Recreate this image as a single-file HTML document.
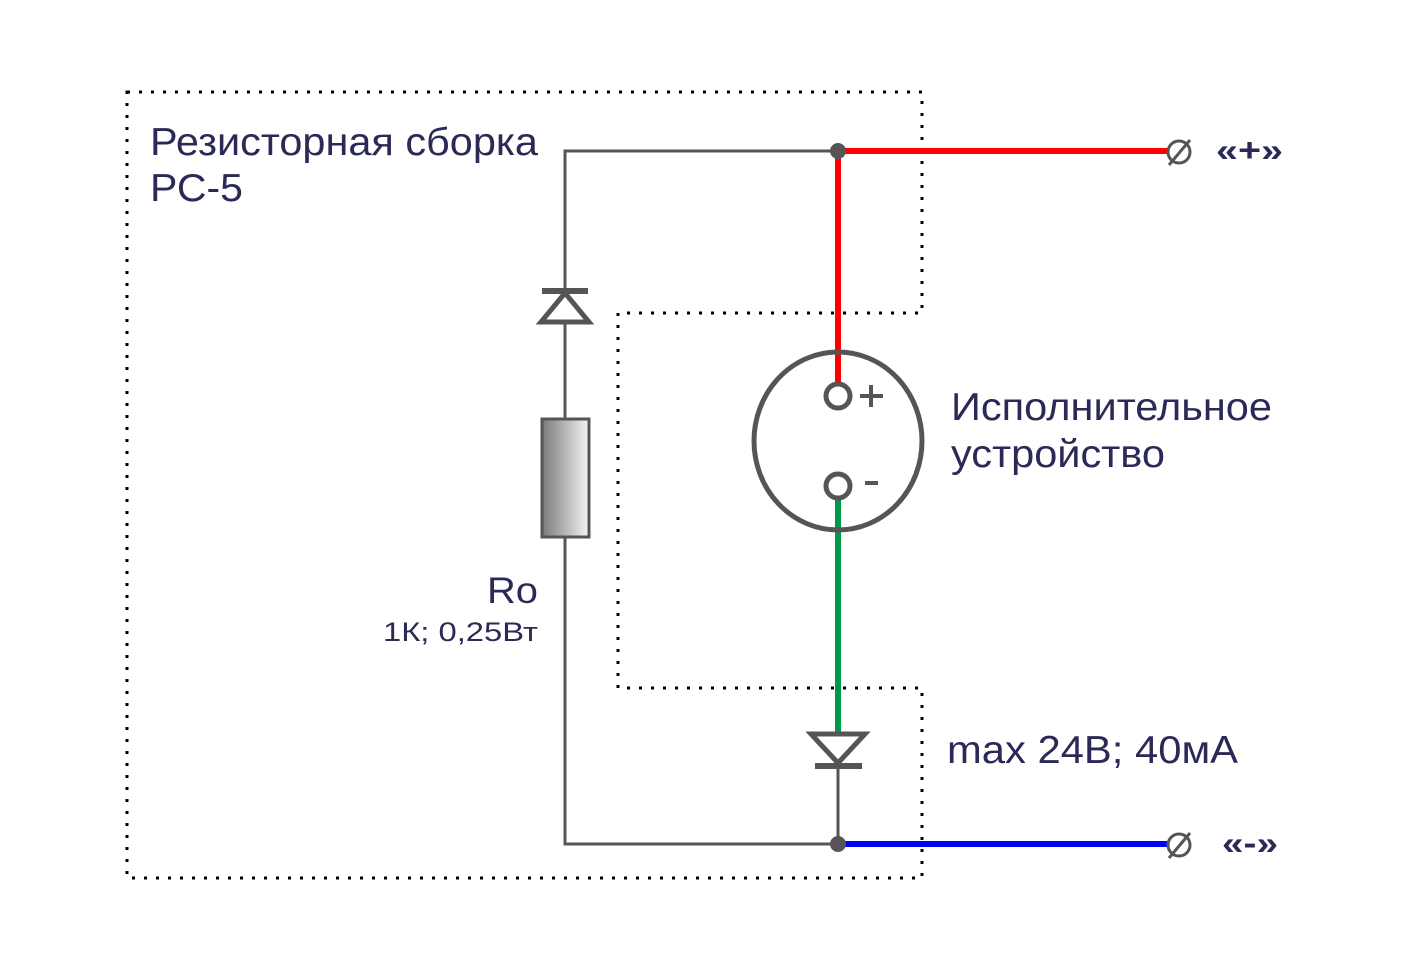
<!DOCTYPE html>
<html><head><meta charset="utf-8"><style>html,body{margin:0;padding:0;background:#fff}</style></head>
<body>
<svg width="1418" height="958" viewBox="0 0 1418 958" xmlns="http://www.w3.org/2000/svg" font-family="Liberation Sans, sans-serif">
<defs>
<linearGradient id="g" x1="0" x2="1" y1="0" y2="0"><stop offset="0" stop-color="#7a7a7a"/><stop offset="1" stop-color="#f4f4f4"/></linearGradient>
</defs>
<path d="M127,92 H922 V313 H618 V688 H922 V878 H127 Z" fill="none" stroke="#000" stroke-width="3" stroke-dasharray="3,9"/>
<g stroke="#555" stroke-width="3" fill="none">
<path d="M838,151 H565 V844 H838 V766"/>
</g>
<line x1="838" y1="151" x2="1168" y2="151" stroke="#f00" stroke-width="6"/>
<line x1="838" y1="151" x2="838" y2="384" stroke="#f00" stroke-width="6"/>
<line x1="838" y1="498" x2="838" y2="736" stroke="#00994a" stroke-width="6"/>
<line x1="838" y1="844" x2="1168" y2="844" stroke="#00f" stroke-width="6"/>
<circle cx="838" cy="151" r="8" fill="#555"/>
<circle cx="838" cy="844" r="8" fill="#555"/>
<line x1="542" y1="291" x2="588" y2="291" stroke="#555" stroke-width="6"/>
<polygon points="565,293 541,322 589,322" fill="#fff" stroke="#555" stroke-width="5"/>
<rect x="542" y="419" width="47" height="118" fill="url(#g)" stroke="#555" stroke-width="3"/>
<polygon points="811,734 865,734 838,763" fill="#fff" stroke="#555" stroke-width="5"/>
<line x1="815" y1="766" x2="862" y2="766" stroke="#555" stroke-width="6"/>
<ellipse cx="838" cy="441" rx="84" ry="89" fill="none" stroke="#555" stroke-width="5"/>
<circle cx="838" cy="396" r="12" fill="#fff" stroke="#555" stroke-width="5"/>
<circle cx="838" cy="486" r="12" fill="#fff" stroke="#555" stroke-width="5"/>
<path d="M860,396 H883 M871,385 V407" stroke="#555" stroke-width="4"/>
<path d="M865,483 H878" stroke="#555" stroke-width="4"/>
<g stroke="#555" stroke-width="3" fill="none">
<circle cx="1179" cy="152" r="11"/><line x1="1169" y1="165" x2="1190" y2="140"/>
<circle cx="1179" cy="845" r="11"/><line x1="1169" y1="858" x2="1190" y2="833"/>
</g>
<g fill="#2b2a56">
<text x="150" y="155" font-size="39" textLength="388" lengthAdjust="spacingAndGlyphs">Резисторная сборка</text>
<text x="150" y="201" font-size="39" textLength="93" lengthAdjust="spacingAndGlyphs">РС-5</text>
<text x="951" y="420" font-size="39" textLength="321" lengthAdjust="spacingAndGlyphs">Исполнительное</text>
<text x="951" y="467" font-size="39" textLength="214" lengthAdjust="spacingAndGlyphs">устройство</text>
<text x="487" y="603" font-size="37" textLength="51" lengthAdjust="spacingAndGlyphs">Ro</text>
<text x="383" y="641" font-size="27" textLength="155" lengthAdjust="spacingAndGlyphs">1К; 0,25Вт</text>
<text x="947" y="763" font-size="39" textLength="291" lengthAdjust="spacingAndGlyphs">max 24В; 40мА</text>
<text x="1216" y="161" font-size="32" font-weight="bold" textLength="67" lengthAdjust="spacingAndGlyphs">«+»</text>
<text x="1222" y="854" font-size="32" font-weight="bold" textLength="56" lengthAdjust="spacingAndGlyphs">«-»</text>
</g>
</svg>
</body></html>
